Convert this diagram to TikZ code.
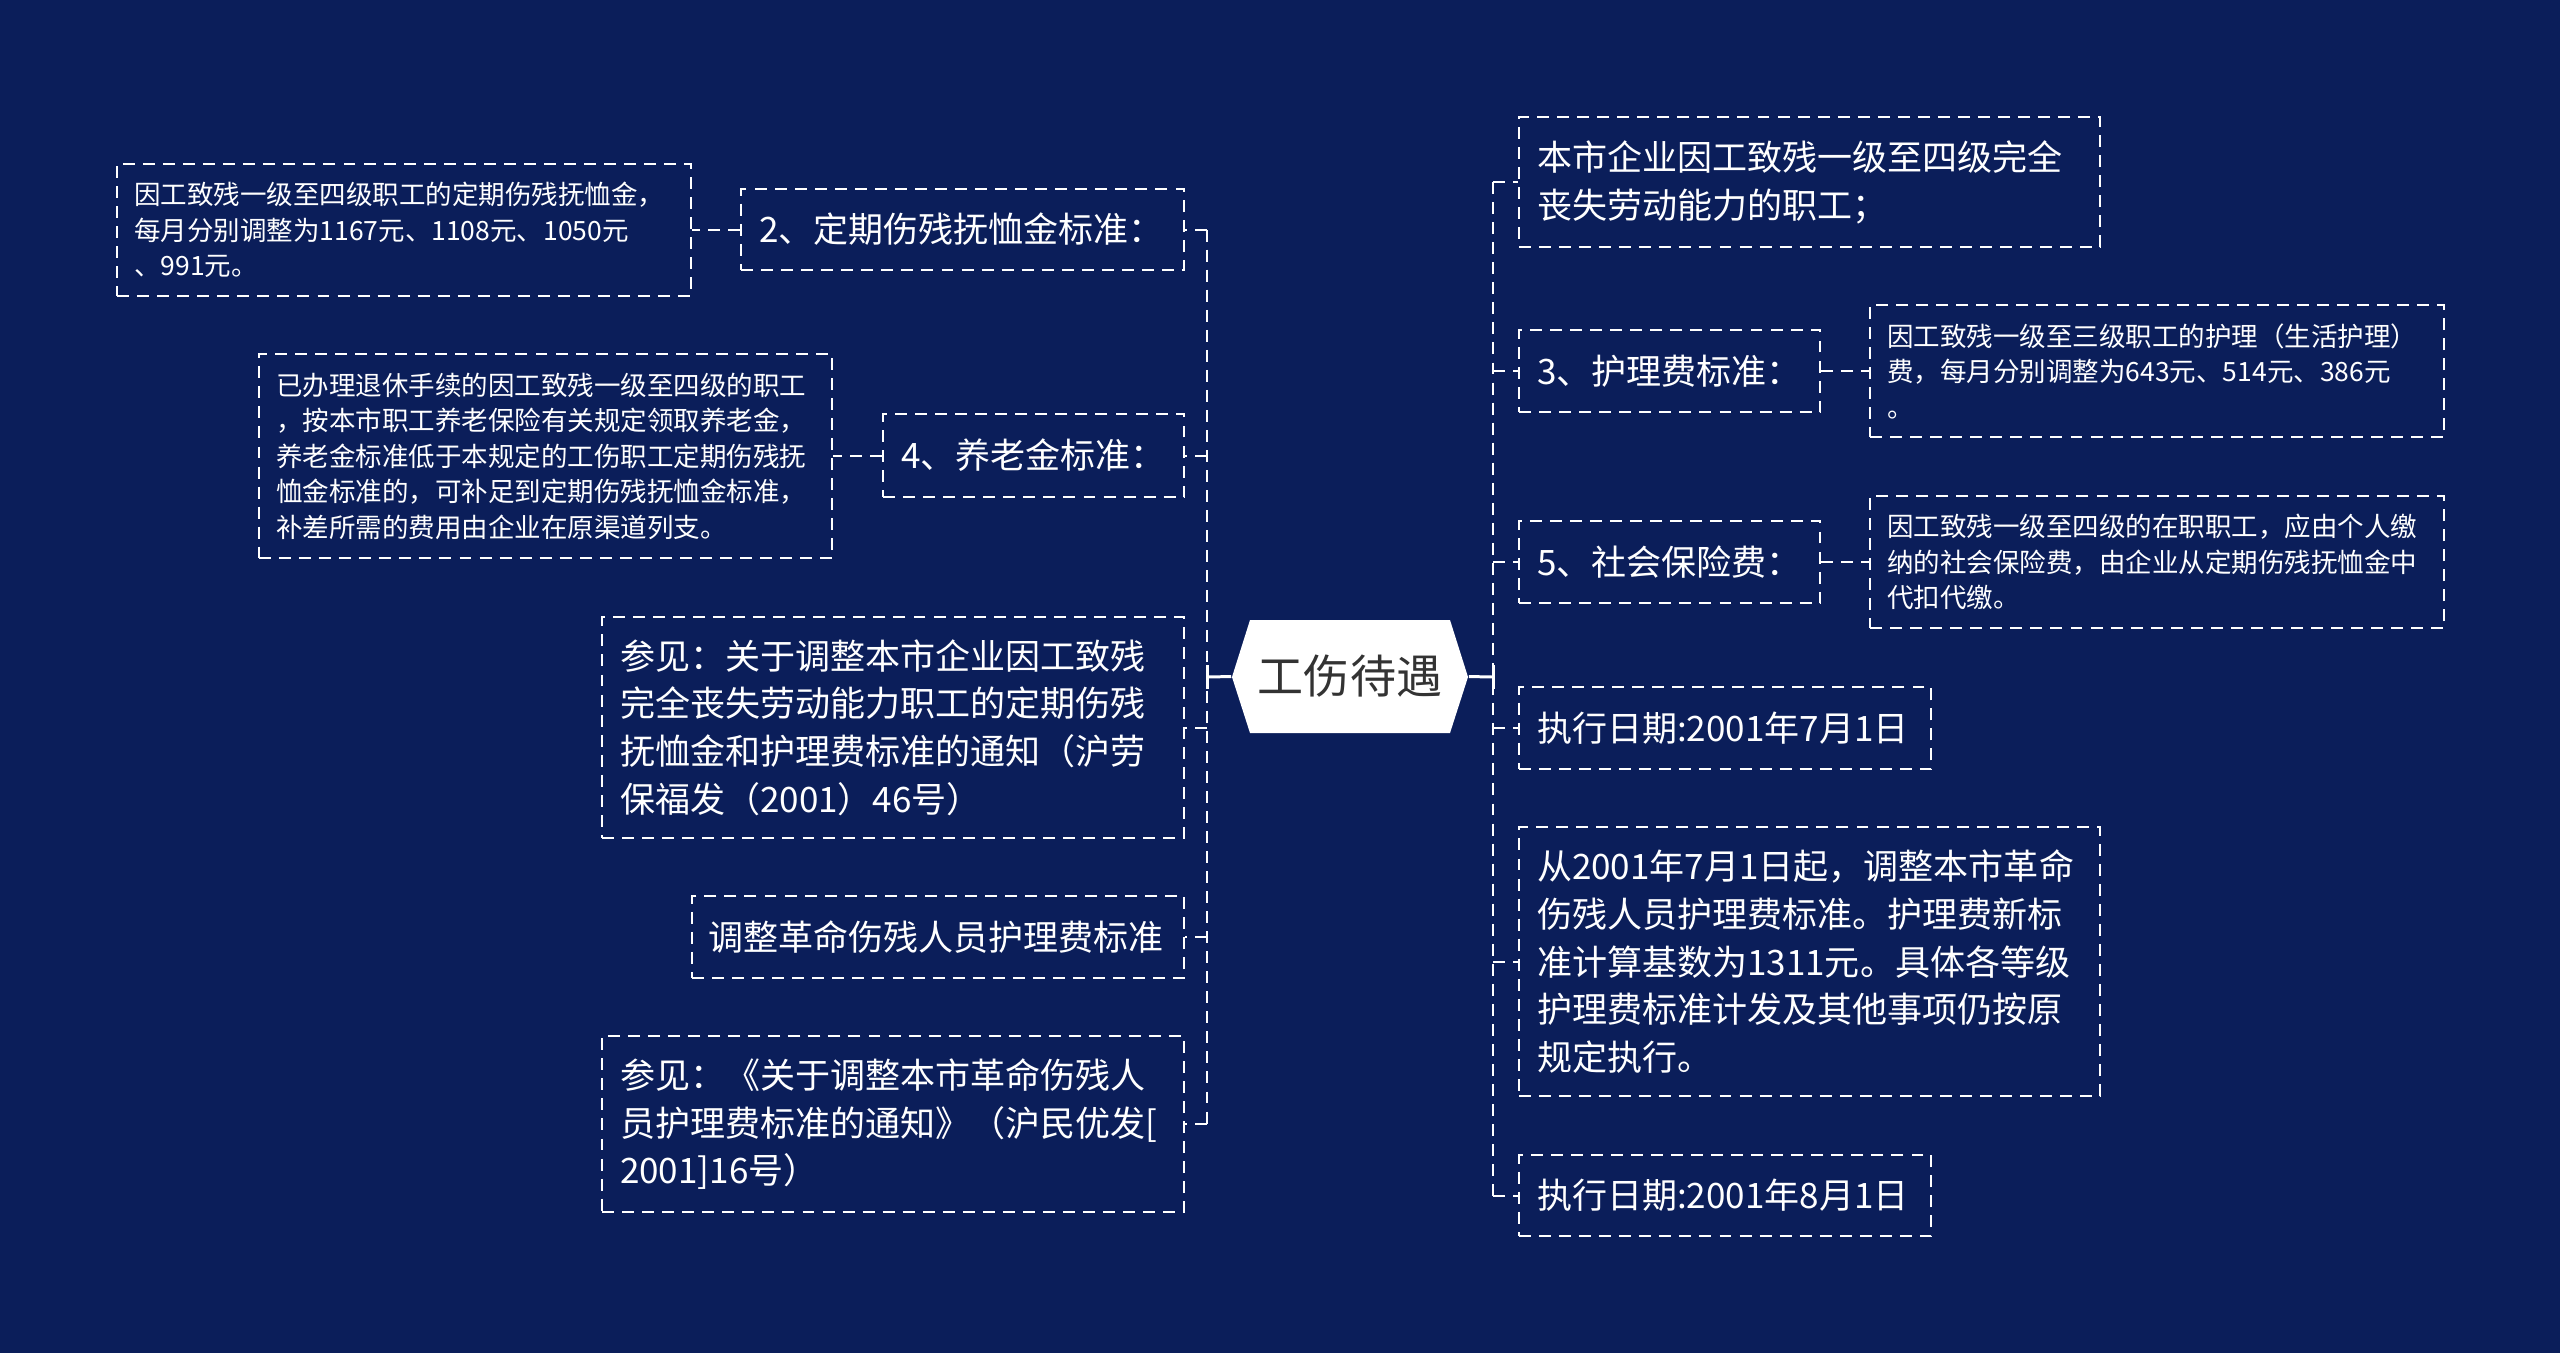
\documentclass[tikz,border=0pt]{standalone}
\usepackage{fontspec}
\setmainfont{Noto Sans CJK SC}
\definecolor{bgc}{RGB}{11,30,90}
\definecolor{ctext}{RGB}{51,51,51}
\tikzset{
  tbox/.style={draw=white, line width=0.6pt, dash pattern=on 3.4pt off 2.3pt,
    text=white, align=left, anchor=north west, inner xsep=0.18cm, inner ysep=0pt,
    font=\fontsize{9.96pt}{13.57pt}\selectfont},
  sbox/.style={tbox, inner xsep=0.17cm, font=\fontsize{7.54pt}{10.1pt}\selectfont},
  dconn/.style={draw=white, line width=0.6pt, dash pattern=on 3.4pt off 2.3pt},
  solidc/.style={draw=white, line width=0.85pt},
}
\begin{document}
\begin{tikzpicture}[x=0.01cm, y=-0.01cm]
\fill[bgc] (0,0) rectangle (2560,1353);
\useasboundingbox (0,0) rectangle (2560,1353);
% center
\fill[white] (1232,677) -- (1250,620) -- (1450,620) -- (1468,677) -- (1450,733) -- (1250,733) -- cycle;
\node[minimum width=2.36cm, minimum height=1.13cm, inner sep=0pt, text=ctext,
  font=\fontsize{13.1pt}{15pt}\selectfont] (c) at (1350,676.5) {工伤待遇};
% left side
\node[sbox, text width=5.40cm, minimum height=1.32cm] (A) at (116,163)
  {因工致残一级至四级职工的定期伤残抚恤金，\\每月分别调整为1167元、1108元、1050元\\、991元。};
\node[tbox, text width=4.07cm, minimum height=0.81cm] (L2) at (740,188) {2、定期伤残抚恤金标准：};
\node[sbox, text width=5.39cm, minimum height=2.04cm] (B) at (258,353)
  {已办理退休手续的因工致残一级至四级的职工\\，按本市职工养老保险有关规定领取养老金，\\养老金标准低于本规定的工伤职工定期伤残抚\\恤金标准的，可补足到定期伤残抚恤金标准，\\补差所需的费用由企业在原渠道列支。};
\node[tbox, text width=2.65cm, minimum height=0.83cm] (L4) at (882,413) {4、养老金标准：};
\node[tbox, text width=5.46cm, minimum height=2.21cm] (P1) at (601,616)
  {参见：关于调整本市企业因工致残\\完全丧失劳动能力职工的定期伤残\\抚恤金和护理费标准的通知（沪劳\\保福发（2001）46号）};
\node[tbox, inner xsep=0.16cm, text width=4.60cm, minimum height=0.82cm] (P2) at (691,895) {调整革命伤残人员护理费标准};
\node[tbox, text width=5.46cm, minimum height=1.76cm] (P3) at (601,1035)
  {参见：《关于调整本市革命伤残人\\员护理费标准的通知》（沪民优发[\\2001]16号）};
% right side
\node[tbox, text width=5.45cm, minimum height=1.30cm] (R1) at (1518,116)
  {本市企业因工致残一级至四级完全\\丧失劳动能力的职工；};
\node[tbox, text width=2.65cm, minimum height=0.82cm] (R2) at (1518,329) {3、护理费标准：};
\node[sbox, text width=5.40cm, minimum height=1.32cm] (R2a) at (1869,304)
  {因工致残一级至三级职工的护理（生活护理）\\费，每月分别调整为643元、514元、386元\\。};
\node[tbox, text width=2.65cm, minimum height=0.82cm] (R3) at (1518,520) {5、社会保险费：};
\node[sbox, text width=5.40cm, minimum height=1.32cm] (R3a) at (1869,495)
  {因工致残一级至四级的在职职工，应由个人缴\\纳的社会保险费，由企业从定期伤残抚恤金中\\代扣代缴。};
\node[tbox, text width=3.76cm, minimum height=0.82cm] (R4) at (1518,686) {执行日期:2001年7月1日};
\node[tbox, text width=5.45cm, minimum height=2.69cm] (R5) at (1518,826)
  {从2001年7月1日起，调整本市革命\\伤残人员护理费标准。护理费新标\\准计算基数为1311元。具体各等级\\护理费标准计发及其他事项仍按原\\规定执行。};
\node[tbox, text width=3.76cm, minimum height=0.81cm] (R6) at (1518,1154) {执行日期:2001年8月1日};
% connectors
\coordinate (tl) at (1207,677);
\coordinate (tr) at (1493,677);
\draw[solidc] (c.west) -- (tl);
\draw[solidc] (c.east) -- (tr);
\draw[solidc] ([yshift=0.12cm]tl) -- ([yshift=-0.12cm]tl);
\draw[solidc] ([yshift=0.12cm]tr) -- ([yshift=-0.12cm]tr);
\draw[dconn] (tl |- L2.east) -- (tl |- P3.east);
\draw[dconn] (tr |- R1.west) -- (tr |- R6.west);
\foreach \n in {L2,L4,P1,P2,P3} { \draw[dconn] (tl |- \n.east) -- (\n.east); }
\foreach \n in {R1,R2,R3,R4,R5,R6} { \draw[dconn] (tr |- \n.west) -- (\n.west); }
\draw[dconn] (L2.west) -- (A.east |- L2.west);
\draw[dconn] (L4.west) -- (B.east |- L4.west);
\draw[dconn] (R2.east) -- (R2a.west |- R2.east);
\draw[dconn] (R3.east) -- (R3a.west |- R3.east);
\end{tikzpicture}
\end{document}
